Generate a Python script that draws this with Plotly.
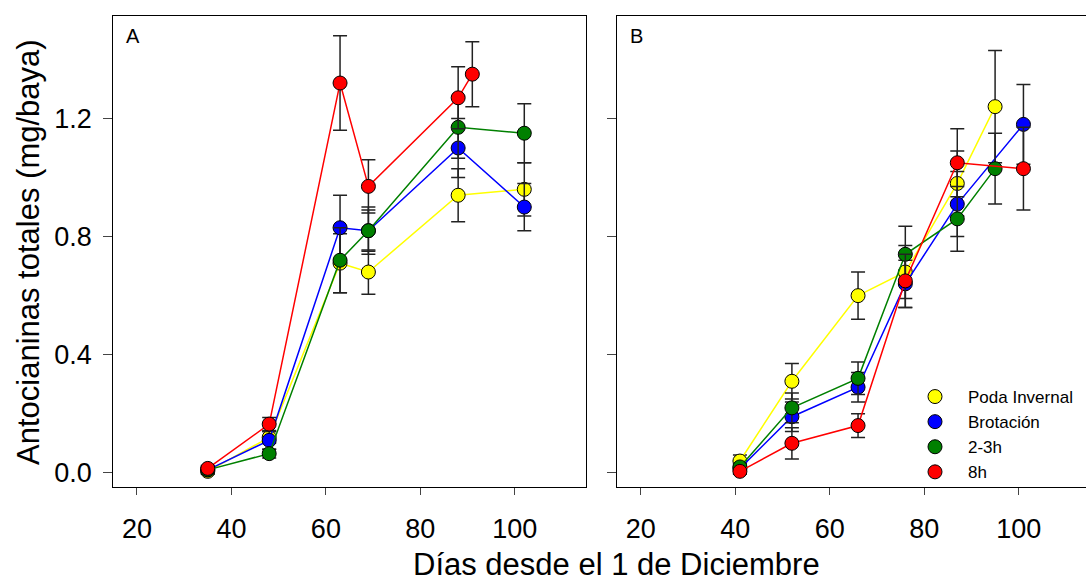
import plotly.graph_objects as go

series_names = ["Poda Invernal", "Brotación", "2-3h", "8h"]
colors = ["#FFFF00", "#0000FF", "#008000", "#FF0000"]
x_ticks = [20, 40, 60, 80, 100]
y_ticks = [0.0, 0.4, 0.8, 1.2]
y_ticktext = ["0.0", "0.4", "0.8", "1.2"]

# Panel A
a_x_poda = [35, 48, 63, 69, 88, 102]
a_y_poda = [0.005, 0.12, 0.71, 0.68, 0.94, 0.96]
a_e_poda = [0.01, 0.02, 0.10, 0.075, 0.09, 0.09]
a_x_brot = [35, 48, 63, 69, 88, 102]
a_y_brot = [0.01, 0.11, 0.83, 0.82, 1.10, 0.90]
a_e_brot = [0.01, 0.03, 0.11, 0.07, 0.10, 0.08]
a_x_23 = [35, 48, 63, 69, 88, 102]
a_y_23 = [0.01, 0.065, 0.72, 0.82, 1.17, 1.15]
a_e_23 = [0.01, 0.015, 0.11, 0.08, 0.105, 0.10]
a_x_8h = [35, 48, 63, 69, 88, 91]
a_y_8h = [0.015, 0.165, 1.32, 0.97, 1.27, 1.35]
a_e_8h = [0.01, 0.022, 0.16, 0.09, 0.105, 0.11]

# Panel B
b_x_poda = [41, 52, 66, 76, 87, 95]
b_y_poda = [0.04, 0.31, 0.60, 0.68, 0.98, 1.24]
b_e_poda = [0.02, 0.06, 0.08, 0.09, 0.11, 0.19]
b_x_brot = [41, 52, 66, 76, 87, 101]
b_y_brot = [0.015, 0.19, 0.29, 0.64, 0.91, 1.18]
b_e_brot = [0.01, 0.05, 0.05, 0.08, 0.11, 0.135]
b_x_23 = [41, 52, 66, 76, 87, 95]
b_y_23 = [0.02, 0.22, 0.32, 0.74, 0.86, 1.03]
b_e_23 = [0.01, 0.05, 0.055, 0.095, 0.11, 0.12]
b_x_8h = [41, 52, 66, 76, 87, 101]
b_y_8h = [0.005, 0.10, 0.16, 0.65, 1.05, 1.03]
b_e_8h = [0.01, 0.053, 0.04, 0.09, 0.115, 0.14]

panel_a = [(a_x_poda, a_y_poda, a_e_poda), (a_x_brot, a_y_brot, a_e_brot),
           (a_x_23, a_y_23, a_e_23), (a_x_8h, a_y_8h, a_e_8h)]
panel_b = [(b_x_poda, b_y_poda, b_e_poda), (b_x_brot, b_y_brot, b_e_brot),
           (b_x_23, b_y_23, b_e_23), (b_x_8h, b_y_8h, b_e_8h)]

FONT = "Liberation Sans, Arial, Helvetica, sans-serif"

fig = go.Figure()
for panel, xa, ya in [(panel_a, "x", "y"), (panel_b, "x2", "y2")]:
    for (xs, ys, es), name, col in zip(panel, series_names, colors):
        fig.add_trace(go.Scatter(
            x=xs, y=ys, mode="lines+markers", name=name, showlegend=False,
            xaxis=xa, yaxis=ya,
            line=dict(color=col, width=1.5),
            marker=dict(size=14, color=col, line=dict(color="black", width=1)),
            error_y=dict(type="data", array=es, visible=True, color="#222222",
                         thickness=1.5, width=7),
        ))

# legend entries (markers only)
for name, col in zip(series_names, colors):
    fig.add_trace(go.Scatter(
        x=[None], y=[None], mode="markers", name=name, xaxis="x2", yaxis="y2",
        marker=dict(size=14, color=col, line=dict(color="black", width=1)),
    ))

axis_common = dict(showgrid=False, zeroline=False, showline=True, linecolor="black",
                   linewidth=1, ticks="outside", tickcolor="#444444", tickwidth=1,
                   tickfont=dict(family=FONT, size=27, color="black"))

ydom = [1 - 487.3 / 583, 1 - 16 / 583]
yrange = [-0.049, 1.547]

fig.update_layout(
    width=1086, height=583,
    margin=dict(l=0, r=0, t=0, b=0, autoexpand=False),
    paper_bgcolor="white", plot_bgcolor="white",
    font=dict(family=FONT, color="black"),
    xaxis=dict(domain=[113.3 / 1086, 585.7 / 1086], range=[15, 115], anchor="y",
               tickvals=x_ticks, ticklen=7, mirror=True, ticklabelstandoff=10, **axis_common),
    yaxis=dict(domain=ydom, range=yrange, anchor="x", tickvals=y_ticks, ticktext=y_ticktext,
               ticklen=9, mirror=True, ticklabelstandoff=6, **axis_common),
    xaxis2=dict(domain=[617.3 / 1086, 1.0], range=[15.05, 114.24], anchor="y2",
                tickvals=x_ticks, ticklen=7, mirror=True, ticklabelstandoff=10, **axis_common),
    yaxis2=dict(domain=ydom, range=yrange, anchor="x2", tickvals=y_ticks,
                showticklabels=False, ticklen=9, mirror=False, **axis_common),
    showlegend=True,
    legend=dict(x=902 / 1086, y=1 - 379 / 583, xanchor="left", yanchor="top",
                bgcolor="rgba(0,0,0,0)", font=dict(family=FONT, size=17, color="black"),
                tracegroupgap=0, itemwidth=56),
    annotations=[
        dict(text="A", x=133.3 / 1086, y=1 - 36 / 583, xref="paper", yref="paper",
             showarrow=False, xanchor="center", yanchor="middle",
             font=dict(family=FONT, size=20, color="black")),
        dict(text="B", x=636.7 / 1086, y=1 - 35.5 / 583, xref="paper", yref="paper",
             showarrow=False, xanchor="center", yanchor="middle",
             font=dict(family=FONT, size=20, color="black")),
        dict(text="Antocianinas totales (mg/baya)", x=28 / 1086, y=1 - 252 / 583,
             xref="paper", yref="paper", showarrow=False, textangle=-90,
             xanchor="center", yanchor="middle",
             font=dict(family=FONT, size=31, color="black")),
        dict(text="Días desde el 1 de Diciembre", x=616 / 1086, y=0,
             xref="paper", yref="paper", showarrow=False,
             xanchor="center", yanchor="bottom", borderpad=0,
             font=dict(family=FONT, size=31, color="black")),
    ],
)

fig.write_html("out.html", config={"displayModeBar": False},
               post_script="document.body.style.margin='0';document.body.style.overflow='hidden';")
